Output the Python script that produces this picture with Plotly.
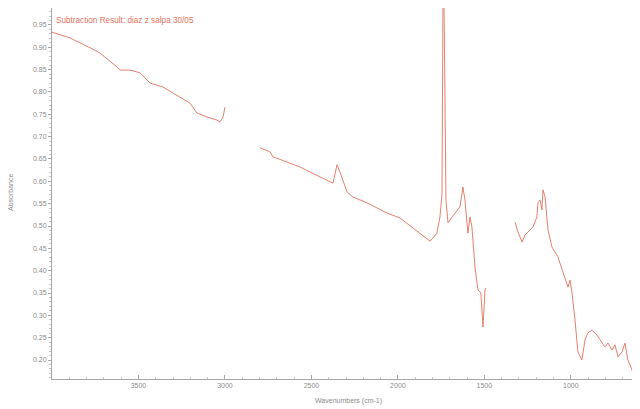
import plotly.graph_objects as go

# Segment 1 (high wavenumber region)
wn_1 = [4000, 3896, 3780, 3722, 3624, 3607, 3549, 3491, 3451, 3433, 3358, 3277, 3202, 3162, 3104, 3046, 3029, 3011, 3000]
ab_1 = [0.934, 0.921, 0.899, 0.887, 0.856, 0.849, 0.849, 0.843, 0.827, 0.820, 0.811, 0.793, 0.775, 0.753, 0.744, 0.737, 0.733, 0.744, 0.766]

# Segment 2 (middle region incl. carbonyl peak)
wn_2 = [2797, 2740, 2722, 2566, 2393, 2375, 2352, 2335, 2294, 2260, 2179, 2063, 1988, 1872, 1814, 1774, 1757, 1745,
        1739, 1733, 1728, 1722, 1710, 1687, 1641, 1624, 1612, 1595, 1583, 1572, 1554, 1537, 1520, 1508, 1496, 1491]
ab_2 = [0.675, 0.666, 0.655, 0.632, 0.599, 0.596, 0.637, 0.621, 0.576, 0.565, 0.552, 0.529, 0.518, 0.484, 0.466, 0.484, 0.520, 0.569,
        1.02, 0.995, 0.744, 0.558, 0.507, 0.520, 0.543, 0.587, 0.558, 0.484, 0.520, 0.498, 0.408, 0.357, 0.350, 0.274, 0.357, 0.361]

# Segment 3 (fingerprint region)
wn_3 = [1323, 1306, 1282, 1265, 1236, 1219, 1196, 1190, 1178, 1167, 1161, 1149, 1132, 1109, 1092, 1074, 1063, 1051, 1034, 1016,
        1005, 993, 976, 964, 959, 936, 918, 901, 878, 849, 831, 803, 785, 762, 745, 727, 704, 687, 670, 646, 641, 617, 600]
ab_3 = [0.509, 0.487, 0.464, 0.480, 0.491, 0.498, 0.520, 0.552, 0.558, 0.536, 0.581, 0.565, 0.491, 0.453, 0.442, 0.431, 0.417,
        0.402, 0.386, 0.363, 0.379, 0.350, 0.290, 0.238, 0.218, 0.200, 0.245, 0.261, 0.267, 0.256, 0.245, 0.229, 0.238, 0.222,
        0.234, 0.207, 0.218, 0.238, 0.200, 0.178, 0.167, 0.193, 0.207]

y_ticks = [0.20, 0.25, 0.30, 0.35, 0.40, 0.45, 0.50, 0.55, 0.60, 0.65, 0.70, 0.75, 0.80, 0.85, 0.90, 0.95]
x_ticks = [3500, 3000, 2500, 2000, 1500, 1000]

title_text = "Subtraction Result: diaz z salpa 30/05"
x_title = "Wavenumbers (cm-1)"
y_title = "Absorbance"

wn = wn_1 + [None] + wn_2 + [None] + wn_3
ab = ab_1 + [None] + ab_2 + [None] + ab_3

line_color = "#e4725d"
grey = "#8c8c8c"
axis_grey = "#a8a8a8"

# The page body has an 8px default margin, so the figure is sized to the visible area.
FIG_W, FIG_H = 632, 401
ML, MR, MT, MB = 44, 0, 0, 30

fig = go.Figure()
fig.add_trace(go.Scatter(x=wn, y=ab, mode="lines", connectgaps=False, cliponaxis=True,
                         line=dict(color=line_color, width=0.9), hoverinfo="skip"))

pw, ph = FIG_W - ML - MR, FIG_H - MT - MB


def px_to_paper(px, py):
    return (px - ML) / pw, (FIG_H - MB - py) / ph


tx, ty = px_to_paper(46, 12)
xx, xy = px_to_paper(340, 393)
yx, yy = px_to_paper(2, 185)

fig.update_layout(
    width=FIG_W, height=FIG_H,
    margin=dict(l=ML, r=MR, t=MT, b=MB, pad=0, autoexpand=False),
    paper_bgcolor="white", plot_bgcolor="white",
    showlegend=False,
    font=dict(family="Arial, Liberation Sans, sans-serif", size=7, color=grey),
    annotations=[
        dict(text=title_text, x=tx, y=ty, xref="paper", yref="paper",
             xanchor="left", yanchor="middle", showarrow=False,
             font=dict(size=8.2, color=line_color)),
        dict(text=x_title, x=xx, y=xy, xref="paper", yref="paper",
             xanchor="center", yanchor="middle", showarrow=False,
             font=dict(size=7, color=grey)),
        dict(text=y_title, x=yx, y=yy, xref="paper", yref="paper", textangle=-90,
             xanchor="center", yanchor="middle", showarrow=False,
             font=dict(size=7, color=grey)),
    ],
)

fig.update_xaxes(range=[4000, 600], tickvals=x_ticks, ticktext=[str(v) for v in x_ticks],
                 showgrid=False, zeroline=False, showline=True, linecolor=axis_grey, linewidth=1,
                 ticks="inside", ticklen=4, tickcolor=axis_grey, automargin=False,
                 minor=dict(dtick=100, ticks="inside", ticklen=2, tickcolor="#c8c8c8"),
                 tickfont=dict(size=7, color=grey))
fig.update_yaxes(range=[0.1575, 0.988], tickvals=y_ticks, ticktext=[f"{v:.2f}" for v in y_ticks],
                 showgrid=False, zeroline=False, showline=True, linecolor=axis_grey, linewidth=1,
                 ticks="outside", ticklen=3, tickcolor=axis_grey, automargin=False,
                 minor=dict(dtick=0.01, ticks="outside", ticklen=2, tickcolor="#c8c8c8"),
                 tickfont=dict(size=7, color=grey))

fig.write_html("out.html")
